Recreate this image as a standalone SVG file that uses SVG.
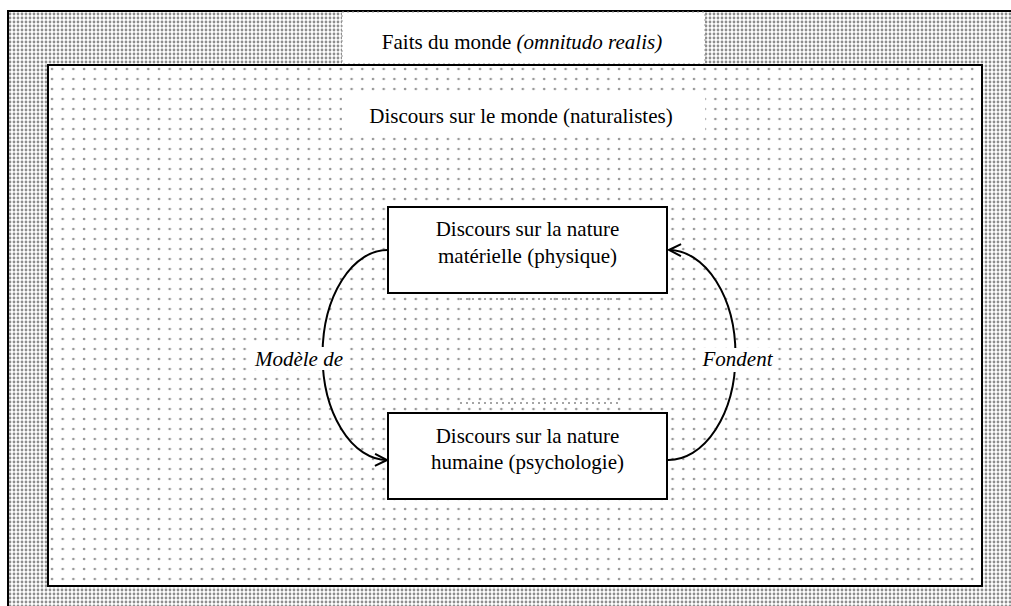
<svg xmlns="http://www.w3.org/2000/svg" width="1011" height="606" viewBox="0 0 1011 606">
<style>
.t{font-family:"Liberation Serif","Times New Roman",serif;font-size:21px;fill:#000;text-anchor:middle}
.i{font-style:italic}
.frame{stroke:#000;stroke-width:2}
.outer{fill:url(#dense)}
.inner{fill:url(#sparse)}
.node{fill:#fff;stroke:#000;stroke-width:2}
.conn{fill:none;stroke:#000;stroke-width:2}
.wbg{fill:#fff;stroke:none}
.dot{fill:#fff;stroke:#999;stroke-width:1;stroke-dasharray:2,3}
</style>
<defs>
<pattern id="dense" width="4" height="4" patternUnits="userSpaceOnUse">
<rect width="4" height="4" fill="#fff"/>
<circle cx="2" cy="2" r="1.4" fill="#8e8e8e"/>
</pattern>
<pattern id="sparse" width="21.4" height="20" patternUnits="userSpaceOnUse" x="48" y="65">
<rect width="21.4" height="20" fill="#fff"/>
<circle cx="4" cy="4" r="1.3" fill="#999"/>
<circle cx="14.7" cy="4" r="1.3" fill="#999"/>
<circle cx="4" cy="14" r="1.3" fill="#999"/>
<circle cx="14.7" cy="14" r="1.3" fill="#999"/>
</pattern>
<marker id="arr" viewBox="0 0 14 14" refX="13" refY="7" markerWidth="14" markerHeight="14" markerUnits="userSpaceOnUse" orient="auto">
<path d="M1,1 L13,7 L1,13" fill="none" stroke="#000" stroke-width="2"/>
</marker>
</defs>
<g id="monde">
<rect x="8" y="11" width="1010" height="600" class="frame outer"/>
<rect x="342" y="12" width="363" height="52" class="dot"/>
<text class="t" x="522" y="49">Faits du monde <tspan class="i">(omnitudo realis)</tspan></text>
</g>
<g id="naturalistes">
<rect x="48" y="65" width="934" height="521" class="frame inner"/>
<rect x="342" y="92" width="363" height="41" class="wbg"/>
<text class="t" x="521" y="123">Discours sur le monde (naturalistes)</text>
<line x1="460" y1="299" x2="620" y2="299" stroke="#888" stroke-width="1.5" stroke-dasharray="2,4"/>
<line x1="460" y1="403" x2="620" y2="403" stroke="#888" stroke-width="1.5" stroke-dasharray="2,4"/>
</g>
<g id="connecteurs">
<path class="conn" d="M388,250 A65,105 0 0 0 387,460" marker-end="url(#arr)"/>
<path class="conn" d="M668,460 A67,105 0 0 0 669,250" marker-end="url(#arr)"/>
<rect x="253" y="347" width="93" height="23" class="wbg"/>
<text class="t i" x="299" y="366">Modèle de</text>
<rect x="700" y="348" width="75" height="24" class="wbg"/>
<text class="t i" x="737.5" y="366">Fondent</text>
</g>
<g id="physique">
<rect x="388" y="207" width="279" height="86" class="node"/>
<text class="t" x="527.5" y="236">Discours sur la nature</text>
<text class="t" x="527.5" y="263">matérielle (physique)</text>
</g>
<g id="psychologie">
<rect x="388" y="413" width="279" height="86" class="node"/>
<text class="t" x="527.5" y="443">Discours sur la nature</text>
<text class="t" x="527.5" y="469">humaine (psychologie)</text>
</g>
</svg>
